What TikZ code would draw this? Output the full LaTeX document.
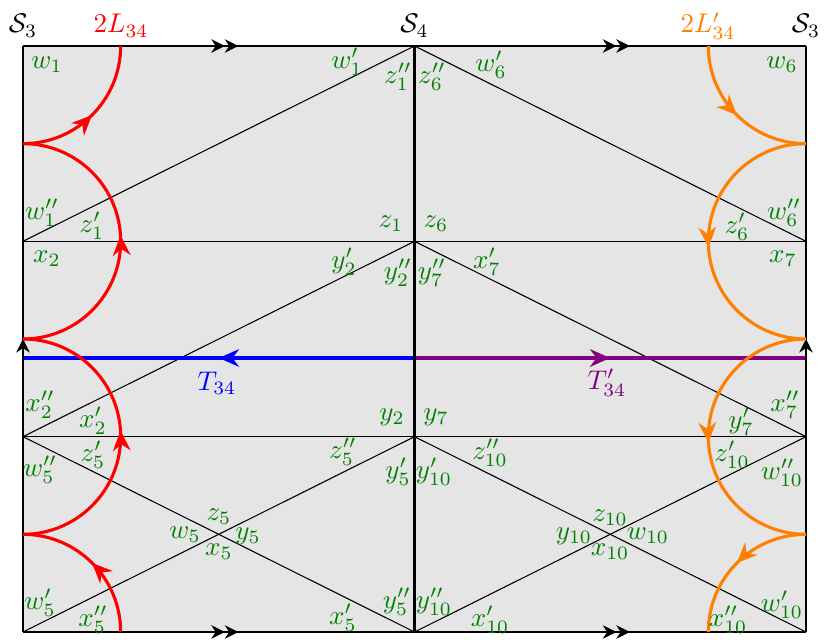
\documentclass[tikz,border=0pt]{standalone}
\usetikzlibrary{arrows.meta,decorations.markings}
\definecolor{lblgreen}{rgb}{0,0.5,0}
\definecolor{myorange}{rgb}{1,0.5,0}
\definecolor{mypurple}{rgb}{0.5,0,0.5}
\tikzset{
  lbl/.style={text=lblgreen,inner sep=0pt},
  toplbl/.style={inner sep=0pt,anchor=base},
  thinline/.style={line width=0.4pt},
  sideline/.style={line width=0.75pt},
  tbline/.style={line width=0.55pt},
  curveline/.style={line width=1.15pt},
  tline/.style={line width=1.3pt},
  midarrow/.style={postaction={decorate},decoration={markings,mark=at position #1 with {\arrow{Stealth[length=7.5pt,width=6.5pt]}}}},
  dblarrow/.style={postaction={decorate},decoration={markings,mark=at position 0.55 with {\arrow{Stealth[length=5pt,width=5pt]Stealth[length=5pt,width=5pt]}}}},
  sgarrow/.style={postaction={decorate},decoration={markings,mark=at position 0.5 with {\arrow{Stealth[length=5pt,width=5pt]}}}}
}
\begin{document}
\begin{tikzpicture}[x=0.37pt,y=0.37pt]
\useasboundingbox (0,0) rectangle (830,640);
% corners and points
\coordinate (TL) at (23,594);
\coordinate (TM) at (414.5,594);
\coordinate (TR) at (806,594);
\coordinate (BL) at (23,8);
\coordinate (BM) at (414.5,8);
\coordinate (BR) at (806,8);
\coordinate (AL) at (23,398.67);
\coordinate (AM) at (414.5,398.67);
\coordinate (AR) at (806,398.67);
\coordinate (CL) at (23,203.33);
\coordinate (CM) at (414.5,203.33);
\coordinate (CR) at (806,203.33);
\coordinate (HL) at (23,282);
\coordinate (HM) at (414.5,282);
\coordinate (HR) at (806,282);
\fill[gray!20] (BL) rectangle (TR);
% inner lines
\draw[thinline] (AL) -- (AR);
\draw[thinline] (CL) -- (CR);
\draw[thinline] (AL) -- (TM) -- (AR);
\draw[thinline] (CL) -- (AM) -- (CR);
\draw[thinline] (CL) -- (BM);
\draw[thinline] (BL) -- (CM);
\draw[thinline] (CM) -- (BR);
\draw[thinline] (BM) -- (CR);
% T lines
\draw[blue,tline,midarrow=0.5] (HM) -- (HL);
\draw[mypurple,tline,midarrow=0.5] (HM) -- (HR);
% borders
\draw[sideline] (TM) -- (BM);
\draw[sideline,sgarrow] (BL) -- (TL);
\draw[sideline,sgarrow] (BR) -- (TR);
\draw[tbline,dblarrow] (TL) -- (TM);
\draw[tbline,dblarrow] (TM) -- (TR);
\draw[tbline,dblarrow] (BL) -- (BM);
\draw[tbline,dblarrow] (BM) -- (BR);
% red arcs
\draw[red,curveline,midarrow=0.5] (120.67,8) arc[start angle=0,end angle=90,radius=97.67];
\draw[red,curveline,midarrow=0.52] (23,105.67) arc[start angle=-90,end angle=90,radius=97.67];
\draw[red,curveline,midarrow=0.52] (23,301) arc[start angle=-90,end angle=90,radius=97.67];
\draw[red,curveline,midarrow=0.5] (23,496.33) arc[start angle=-90,end angle=0,radius=97.67];
% orange arcs
\draw[myorange,curveline,midarrow=0.5] (708.33,594) arc[start angle=180,end angle=270,radius=97.67];
\draw[myorange,curveline,midarrow=0.52] (806,496.33) arc[start angle=90,end angle=270,radius=97.67];
\draw[myorange,curveline,midarrow=0.52] (806,301) arc[start angle=90,end angle=270,radius=97.67];
\draw[myorange,curveline,midarrow=0.5] (806,105.67) arc[start angle=90,end angle=180,radius=97.67];
% top labels
\node[toplbl] (s3l) at (23,607) {$\mathcal{S}_3$};
\node[toplbl,text=red] (l34) at (121,607) {$2L_{34}$};
\node[toplbl] (s4) at (414.5,607) {$\mathcal{S}_4$};
\node[toplbl,text=myorange] (l34p) at (708,607) {$2L'_{34}$};
\node[toplbl] (s3r) at (806,607) {$\mathcal{S}_3$};
\node[inner sep=0pt,text=blue] (t34) at (217,257) {$T_{34}$};
\node[inner sep=0pt,text=mypurple] (t34p) at (607,257) {$T'_{34}$};
% green labels
\node[lbl] (g1) at (47,575) {$w_1$};
\node[lbl] (g2) at (347,578) {$w'_1$};
\node[lbl] (g3) at (398,563) {$z''_1$};
\node[lbl] (g4) at (432,563) {$z''_6$};
\node[lbl] (g5) at (491,575) {$w'_6$};
\node[lbl] (g6) at (782,575) {$w_6$};
\node[lbl] (g7) at (42,427) {$w''_1$};
\node[lbl] (g8) at (92,414) {$z'_1$};
\node[lbl] (g9) at (391,416) {$z_1$};
\node[lbl] (g10) at (436,416) {$z_6$};
\node[lbl] (g11) at (737,413) {$z'_6$};
\node[lbl] (g12) at (784,427) {$w''_6$};
\node[lbl] (g13) at (47,381) {$x_2$};
\node[lbl] (g14) at (344,378) {$y'_2$};
\node[lbl] (g15) at (398,367) {$y''_2$};
\node[lbl] (g16) at (432,367) {$y''_7$};
\node[lbl] (g17) at (487,378) {$x'_7$};
\node[lbl] (g18) at (783,381) {$x_7$};
\node[lbl] (g19) at (40,235) {$x''_2$};
\node[lbl] (g20) at (93,219) {$x'_2$};
\node[lbl] (g21) at (392,223) {$y_2$};
\node[lbl] (g22) at (436,223) {$y_7$};
\node[lbl] (g23) at (741,218) {$y'_7$};
\node[lbl] (g24) at (785,235) {$x''_7$};
\node[lbl] (g25) at (93,185) {$z'_5$};
\node[lbl] (g26) at (40,170) {$w''_5$};
\node[lbl] (g27) at (343,188) {$z''_5$};
\node[lbl] (g28) at (398,168) {$y'_5$};
\node[lbl] (g29) at (434,168) {$y'_{10}$};
\node[lbl] (g30) at (490,187) {$z''_{10}$};
\node[lbl] (g31) at (732,185) {$z'_{10}$};
\node[lbl] (g32) at (782,167) {$w''_{10}$};
\node[lbl] (g33) at (219,123) {$z_5$};
\node[lbl] (g34) at (185,105) {$w_5$};
\node[lbl] (g35) at (248,104) {$y_5$};
\node[lbl] (g36) at (219,88) {$x_5$};
\node[lbl] (g37) at (610,122) {$z_{10}$};
\node[lbl] (g38) at (574,104) {$y_{10}$};
\node[lbl] (g39) at (648,104) {$w_{10}$};
\node[lbl] (g40) at (610,88) {$x_{10}$};
\node[lbl] (g41) at (40,37) {$w'_5$};
\node[lbl] (g42) at (93,20) {$x''_5$};
\node[lbl] (g43) at (343,22) {$x'_5$};
\node[lbl] (g44) at (397,38) {$y''_5$};
\node[lbl] (g45) at (434,38) {$y''_{10}$};
\node[lbl] (g46) at (490,20) {$x'_{10}$};
\node[lbl] (g47) at (728,20) {$x''_{10}$};
\node[lbl] (g48) at (782,35) {$w'_{10}$};
\end{tikzpicture}
\end{document}
